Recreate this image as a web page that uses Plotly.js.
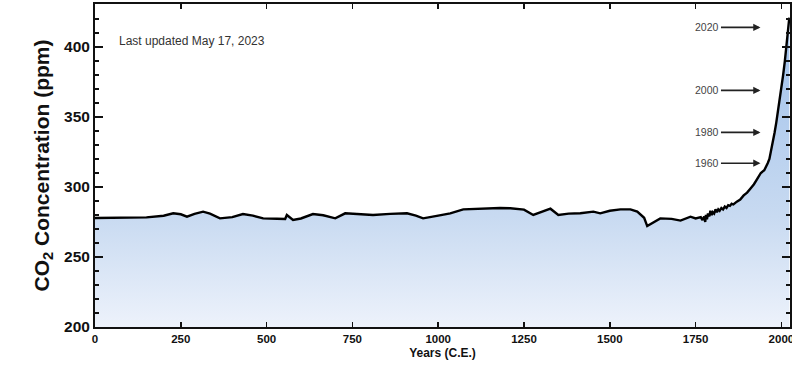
<!DOCTYPE html>
<html>
<head>
<meta charset="utf-8">
<script src="https://cdn.plot.ly/plotly-3.0.1.min.js"></script>
<style>html,body{margin:0;padding:0;background:#fff;}#chart{width:792px;height:367px;}</style>
</head>
<body>
<div id="chart"></div>
<script>
const years = [0,50,100,150,200,228,250,268,290,315,335,364,400,431,460,490,530,554,559,566,577,600,635,665,700,729,770,810,860,909,935,956,1000,1035,1073,1100,1143,1180,1210,1250,1277,1300,1327,1350,1380,1414,1452,1472,1500,1531,1560,1580,1600,1609,1625,1647,1680,1706,1735,1750,1765,1770,1775,1778,1780,1783,1786,1790,1793,1797,1800,1804,1808,1812,1816,1820,1825,1830,1835,1840,1845,1850,1855,1860,1870,1880,1890,1900,1910,1920,1930,1940,1950,1958,1960,1965,1970,1975,1980,1985,1990,1995,2000,2005,2010,2015,2020,2023];
const ppm = [277.8,277.9,278.0,278.3,279.5,281.2,280.5,278.8,280.8,282.4,281.0,277.6,278.5,280.7,279.5,277.6,277.3,277.1,280.0,278.5,276.4,277.5,280.7,279.8,277.6,281.2,280.5,280.0,280.8,281.2,279.5,277.6,279.5,281.2,284.0,284.3,284.8,285.0,284.8,283.8,280.0,282.0,284.5,280.0,281.0,281.2,282.4,281.2,283.0,284.0,284.0,282.4,278.0,272.1,274.5,277.6,277.2,276.0,278.8,277.5,278.5,276.4,279.0,275.0,280.0,277.0,281.0,279.0,283.0,280.0,282.0,281.0,284.0,282.0,284.0,283.0,285.0,284.0,286.0,285.0,287.0,286.5,288.0,287.5,289.5,291.0,294.0,296.0,299.0,302.0,306.0,310.0,312.0,315.5,317.0,320.0,325.7,331.0,338.7,346.0,354.4,361.0,369.7,380.0,389.9,401.0,414.2,421.0];
const markLabels = ['2020','2000','1980','1960'];
const markPpm = [414, 369, 339, 317];
const xTicks = [0,250,500,750,1000,1250,1500,1750,2000];
const yTicks = [200,250,300,350,400];

const FONT = 'Liberation Sans, Arial, Helvetica, sans-serif';

const trace = {
  x: years, y: ppm, type: 'scatter', mode: 'lines',
  line: {color: '#000', width: 2.4},
  fill: 'tozeroy',
  fillgradient: {type: 'vertical', start: 200, stop: 425,
    colorscale: [[0, '#edf2fb'], [0.35, '#c8daf1'], [1, '#9dbfea']]},
  hoverinfo: 'skip'
};

const annotations = markLabels.map((t, i) => ({
  x: 1939, y: markPpm[i], xref: 'x', yref: 'y',
  text: t, showarrow: true, ax: -53, ay: 0,
  arrowhead: 2, arrowsize: 0.9, arrowwidth: 1.6, arrowcolor: '#222',
  font: {family: FONT, size: 10.5, color: '#444'}
}));
annotations.push({
  xref: 'paper', yref: 'paper', x: 0.031, y: 0.885, xanchor: 'left', yanchor: 'middle',
  text: 'Last updated May 17, 2023', showarrow: false,
  font: {family: FONT, size: 12, color: '#333'}
});

const layout = {
  width: 792, height: 367,
  margin: {l: 95, r: 2, t: 4, b: 40},
  paper_bgcolor: '#fff', plot_bgcolor: '#fff',
  showlegend: false,
  xaxis: {
    range: [0, 2025], tickvals: xTicks, ticktext: xTicks.map(String),
    ticks: 'inside', ticklen: 5, tickwidth: 1.5, tickcolor: '#111',
    showline: true, linecolor: '#111', linewidth: 2, mirror: 'ticks',
    showgrid: false, zeroline: false, ticklabeloverflow: 'allow',
    tickfont: {family: FONT, size: 11.5, color: '#111', weight: 'bold'},
    title: {text: 'Years (C.E.)', font: {family: FONT, size: 12, color: '#111', weight: 'bold'}, standoff: 5}
  },
  yaxis: {
    range: [200, 430.7], tickvals: yTicks, ticktext: yTicks.map(String),
    ticks: 'inside', ticklen: 8, tickwidth: 1.5, tickcolor: '#111',
    minor: {dtick: 10, ticks: 'inside', ticklen: 4, tickwidth: 1.2, tickcolor: '#111', showgrid: false},
    showline: true, linecolor: '#111', linewidth: 2, mirror: 'ticks',
    showgrid: false, zeroline: false,
    tickfont: {family: FONT, size: 15.5, color: '#111', weight: 'bold'},
    title: {text: 'CO<sub>2</sub> Concentration (ppm)', font: {family: FONT, size: 21, color: '#111', weight: 'bold'}, standoff: 9}
  },
  annotations: annotations
};

Plotly.newPlot('chart', [trace], layout, {displayModeBar: false, staticPlot: true});
</script>
</body>
</html>
